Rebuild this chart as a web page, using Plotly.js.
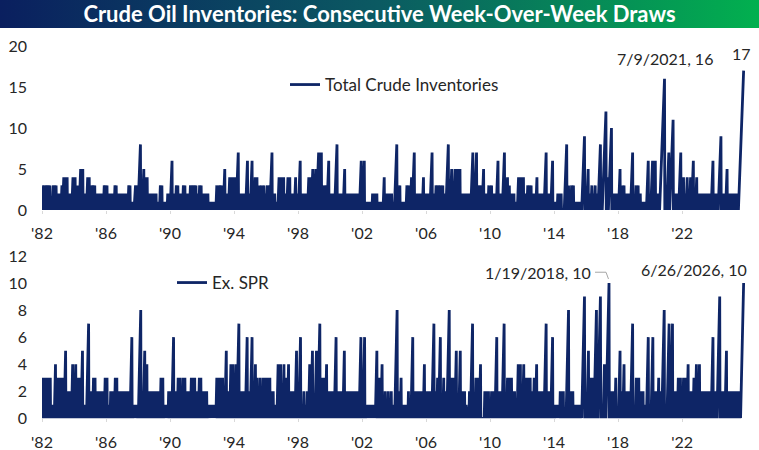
<!DOCTYPE html>
<html><head><meta charset="utf-8">
<script src="https://cdn.plot.ly/plotly-3.0.1.min.js"></script>
<style>html,body{margin:0;padding:0;background:#fff}#chart{width:759px;height:450px}</style>
</head><body><div id="chart"></div>
<script>
// ---- data ----
// Weekly series, first week 1982-08-20, last week 2026-06-26.
// Each entry is one tick-year block (Aug-to-Aug); tokens are lengths of consecutive-draw streaks
// in order ("v*n" = n streaks of length v, "0" = extra build weeks).
const firstWeek = '1982-08-20';
const lastWeek = '2026-06-26';
const totalCrudeStreaks = [
  "1 3*6 1*3 3*3 2", "2*3 3 4*3 2*4 4", "4 2 3 2 5*2 2*3 4*2", "3*4 2*9 3*2",
  "3 1*3 2*5 3*2 2*5", "2*5 3*2 1*5 3*2", "8 2 5 4*2 2*5", "2*2 1*3 3*2 1*5 2*2",
  "6 2*2 3*2 2*3 3*2", "2*3 3*5 2*2 3*2", "2*5 1*8 3", "3*3 2 5 2*3 4*3",
  "4 7 1 2*4 6 2", "6 2 4*2 3 2 3 2 3 2", "3*2 7 2*2 1*2 4*2", "4 2*2 4*2 2*3 4 2",
  "6 1 2 1 2 1 2 4 4 5", "5 7 7 3*3 6", "2*3 8 2*4 5", "2*12 6",
  "6 1*6 2*4", "1*4 4 1 2 1 2 1 2 1", "8 2 3 1*5 3 3", "4 7 2*6 4 2",
  "2*3 7 2*2 3*4", "3 2*2 8 2 5 2 5*2", "5 2*7 7", "7 3*3 5 2*3 3",
  "3 2*2 6 2*2 7", "4 3 2*3 1*2 4*2", "4 2*2 3*3 2*3 4", "2*3 7 2*2 6",
  "1*2 2*3 0 0 8 3", "3 3 1*6 9", "5 2 3 2 3 2 8", "12 4 10 2*4",
  "5 3*2 2*3 7", "3*2 2 1*3 6", "6 6 2 2 16", "7 11 2*3 7",
  "4 2 4 2 4 6 2 4", "2*9 6", "2 2 9 2*2 5 2", "2*9 17"
];
const exSprStreaks = [
  "3*6 1*4 4 3", "3 2 3 3 5 2*4 4", "4 3 3 5 1*2 7", "2*2 3*2 2*7 3",
  "3 1*3 2*4 3 3 2*4", "2*5 6 1*4", "8 2 5 4 2*4", "2*4 3 3 1*4 2",
  "2 6 2*2 3*2 2 3*2", "2*3 3*3 2*2 3*2", "2*4 1*9 3", "3*3 2 5 2*2 4*2",
  "4 7 1 2 1 2 6 2", "6 2 4 3 2 3 2 3 3", "3*2 2 2 1 1 4 4", "4 3 4 2*3 5",
  "6 1 2 1 2 4 5", "5 7 3*2 4 2", "2*2 6 2*3 5", "2*10 6",
  "6 1*8 5", "3 4 1 2 1 2 1 2 1", "8 2 3 1*4 2", "6 2*5 4",
  "2*3 7 2 3 6", "3 2 8 3*2 5", "5 2 1 2 1 0 0 2 7", "3*2 4 0 0 2*3",
  "2 2 6 2 2 7", "3*3 2*2 1 4 4", "4 3*3 2 3 4", "2*3 7 2*2 6",
  "1*4 2*3 0 0 8", "2*2 1*6 9", "5 3 3 8 9", "4 10 2*2 3",
  "5 2 4 2*3 7", "3*2 2*2 1 6", "6 2*2 3 2 8", "7 7 2*2 3 3",
  "3*2 4 2*2 3 4", "4 2*8 6", "2 9 2*2 5 2", "2*8 1 10"
];
const tickYears = [1982,1986,1990,1994,1998,2002,2006,2010,2014,2018,2022];
const tickLabels = ["'82","'86","'90","'94","'98","'02","'06","'10","'14","'18","'22"];
const seriesNames = ['Total Crude Inventories', 'Ex. SPR'];
const callouts = {top: ['7/9/2021, 16', '17'], bottom: ['1/19/2018, 10', '6/26/2026, 10']};

// ---- build weekly series from streak lists ----
const DAY = 86400000, WEEK = 7*DAY;
const t0 = Date.parse(firstWeek + 'T00:00:00Z');
const NPTS = Math.round((Date.parse(lastWeek + 'T00:00:00Z') - t0)/WEEK) + 1;
const WPY = 365.25/7;
const bStart = b => Math.round(b*WPY);
function expand(spec){
  const out=[];
  spec.trim().split(/\s+/).forEach(tok=>{
    const p=tok.split('*'); const n=p[1]?+p[1]:1;
    for(let i=0;i<n;i++) out.push(+p[0]);
  });
  return out;
}
function build(blocks){
  const y=[];
  blocks.forEach((spec,b)=>{
    const last = b===blocks.length-1;
    const s=bStart(b), e = last ? NPTS : bStart(b+1);
    const L=e-s, runs=expand(spec);
    const R=runs.reduce((a,c)=>a+c,0);
    const slots = runs.length + (last?0:1);
    const Z = Math.max(0, L-R);
    const gaps=[];
    for(let i=0;i<slots;i++) gaps.push(Math.floor((i+1)*Z/slots)-Math.floor(i*Z/slots));
    runs.forEach((k,i)=>{
      for(let j=0;j<gaps[i];j++) y.push(0);
      for(let j=1;j<=k;j++) y.push(j);
    });
    if(!last) for(let j=0;j<gaps[slots-1];j++) y.push(0);
  });
  return y.slice(0,NPTS);
}
const topY = build(totalCrudeStreaks);
const botY = build(exSprStreaks);
const dateOf = i => new Date(t0 + i*WEEK).toISOString().slice(0,10);
const xs = topY.map((_,i)=>dateOf(i));
const xs2 = botY.map((_,i)=>dateOf(i));

// ---- layout ----
const W=759, H=450;
const NAVY='#0e2566';
const FONT='Lato, "Open Sans", sans-serif';
const TXT='#262626';
const yearMs = 365.25*DAY;
const pxL=42, pxR=752, pxPerYear=16;
const msPerPx = yearMs/pxPerYear;
const xRange=[dateOf(0), new Date(t0 + (pxR-pxL)*msPerPx).toISOString().slice(0,10)];
const tickVals = tickYears.map(y=>y+'-08-20');

function xaxis(anchor){
  return {domain:[pxL/W, pxR/W], range:xRange, type:'date', anchor:anchor,
    tickvals:tickVals, ticktext:tickLabels, showgrid:false, zeroline:false, showline:false,
    ticks:'outside', ticklen:3, tickcolor:'#d9d9d9', ticklabelstandoff:6,
    tickfont:{family:FONT,size:16,color:TXT}, fixedrange:true};
}
const iTop16 = topY.indexOf(16);
const iBot10 = botY.indexOf(10);
const iEnd = NPTS-1;
const msAt = (i, dpx) => new Date(t0 + i*WEEK + dpx*msPerPx).toISOString();

const grad = "<svg xmlns='http://www.w3.org/2000/svg' width='759' height='28' preserveAspectRatio='none'><defs><linearGradient id='g' x1='0' x2='1' y1='0' y2='0'><stop offset='0' stop-color='#0a1f5f'/><stop offset='0.5' stop-color='#0b5a62'/><stop offset='1' stop-color='#02b04f'/></linearGradient></defs><rect width='759' height='28' fill='url(#g)'/></svg>";

const LW = 2.8;
const traces = [
  {x:xs, y:topY, xaxis:'x', yaxis:'y', type:'scatter', mode:'lines', name:seriesNames[0],
   line:{color:NAVY, width:LW}, legend:'legend', hoverinfo:'skip'},
  {x:xs2, y:botY, xaxis:'x2', yaxis:'y2', type:'scatter', mode:'lines', name:seriesNames[1],
   line:{color:NAVY, width:LW}, legend:'legend2', hoverinfo:'skip'}
];
const afont = {family:FONT, size:16, color:TXT};
const lead = {color:'#a6a6a6', width:1};
const yLead = botY[iBot10] + 0.8;
const layout = {
  width:W, height:H, margin:{l:0,r:0,t:0,b:0}, paper_bgcolor:'#fff', plot_bgcolor:'rgba(0,0,0,0)',
  title:{text:'Crude Oil Inventories: Consecutive Week-Over-Week Draws', x:0.5, xanchor:'center',
    yref:'container', y:1-14/H, yanchor:'middle', font:{family:FONT, size:22, color:'#ffffff', weight:'bold'}},
  images:[{source:'data:image/svg+xml;charset=utf-8,'+encodeURIComponent(grad), xref:'paper', yref:'paper',
    x:0, y:1, sizex:1, sizey:28/H, sizing:'stretch', xanchor:'left', yanchor:'top', layer:'below'}],
  xaxis: xaxis('y'),
  xaxis2: xaxis('y2'),
  yaxis:{domain:[(H-210)/H, (H-46)/H], range:[0,20], dtick:5, tick0:0, showgrid:false, zeroline:false,
    showline:false, ticks:'', ticklabelstandoff:14, tickfont:{family:FONT,size:16,color:TXT}, fixedrange:true},
  yaxis2:{domain:[(H-418.3)/H, (H-256)/H], range:[0,12], dtick:2, tick0:0, showgrid:false, zeroline:false,
    showline:false, ticks:'', ticklabelstandoff:14, tickfont:{family:FONT,size:16,color:TXT}, fixedrange:true},
  showlegend:true,
  legend:{x:285/W, y:1-85/H, xanchor:'left', yanchor:'middle', bgcolor:'rgba(0,0,0,0)',
    font:{family:FONT,size:17,color:TXT}},
  legend2:{x:172/W, y:1-283/H, xanchor:'left', yanchor:'middle', bgcolor:'rgba(0,0,0,0)',
    font:{family:FONT,size:17,color:TXT}},
  shapes:[
    {type:'line', xref:'x2', yref:'y2', x0:msAt(iBot10,-14), x1:msAt(iBot10,-3), y0:yLead, y1:yLead, line:lead},
    {type:'line', xref:'x2', yref:'y2', x0:msAt(iBot10,-3), x1:msAt(iBot10,-0.5), y0:yLead, y1:botY[iBot10]+0.3, line:lead}
  ],
  annotations:[
    {xref:'x', yref:'y', x:dateOf(iTop16), y:topY[iTop16], text:callouts.top[0], showarrow:false,
     yanchor:'bottom', yshift:9, font:afont},
    {xref:'x', yref:'y', x:dateOf(iEnd), y:topY[iEnd], text:callouts.top[1], showarrow:false,
     yanchor:'bottom', yshift:6, xshift:-2, font:afont},
    {xref:'x2', yref:'y2', x:dateOf(iBot10), y:yLead, text:callouts.bottom[0], showarrow:false,
     xanchor:'right', xshift:-16, yanchor:'middle', yshift:0, font:afont},
    {xref:'x2', yref:'y2', x:dateOf(iEnd), y:botY[iEnd], text:callouts.bottom[1], showarrow:false,
     xanchor:'right', xshift:5, yanchor:'bottom', yshift:2, font:afont}
  ],
  hovermode:false
};
Plotly.newPlot('chart', traces, layout, {staticPlot:true, displayModeBar:false});
</script></body></html>
